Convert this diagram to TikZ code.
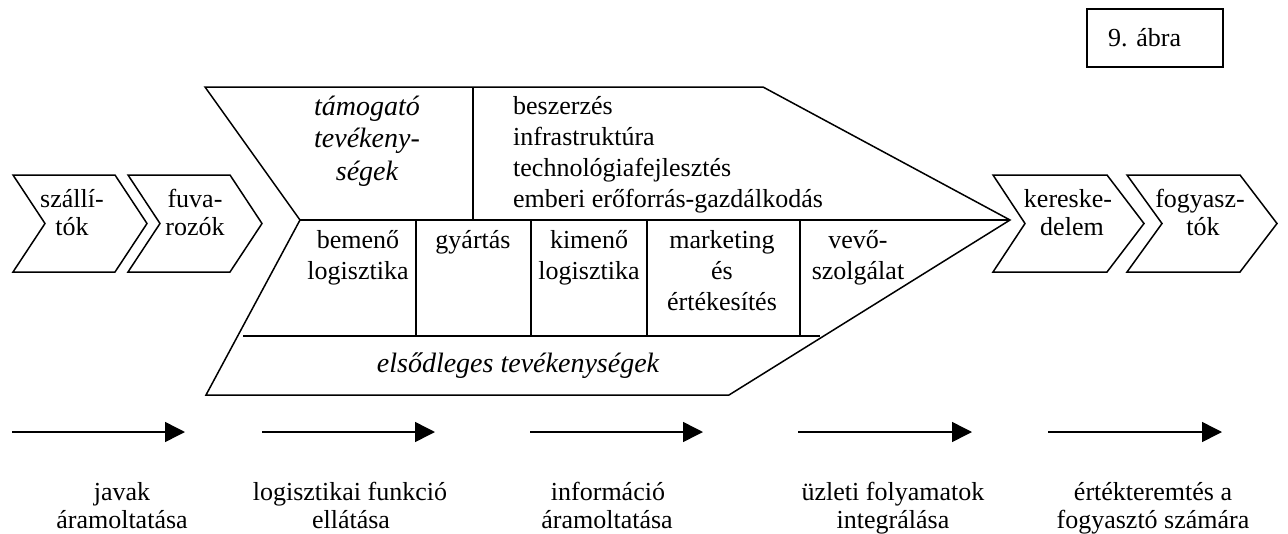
\documentclass[tikz,border=0pt]{standalone}
\usepackage{fontspec}
\setmainfont{Liberation Serif}
\usetikzlibrary{arrows.meta}
\begin{document}
\begin{tikzpicture}[x=1pt,y=-1pt,
  outline/.style={draw=black, line width=1.5pt, line join=miter},
  rule/.style={draw=black, line width=1.5pt},
  txt/.style={inner sep=0pt, anchor=base, font=\fontsize{26}{31}\selectfont},
  itxt/.style={inner sep=0pt, anchor=base, font=\fontsize{28}{32}\selectfont\itshape},
  flow/.style={draw=black, line width=1.5pt, -{Triangle[length=20pt,width=20pt]}}]
\useasboundingbox (0,0) rectangle (1288,533);

% figure number box
\draw[rule] (1087,9) rectangle (1223,67);
\node[txt, anchor=base west] (abra) at (1108,46) {9. ábra};

% small chevrons of the chain
\draw[outline] (13,175) -- (115,175) -- (147,223.5) -- (115,272) -- (13,272) -- (45,223.5) -- cycle;
\draw[outline] (128,175) -- (230,175) -- (262,223.5) -- (230,272) -- (128,272) -- (160,223.5) -- cycle;
\draw[outline] (993,175) -- (1107,175) -- (1144,223.5) -- (1107,272) -- (993,272) -- (1025,223.5) -- cycle;
\draw[outline] (1127,175) -- (1240,175) -- (1277,223.5) -- (1240,272) -- (1127,272) -- (1162,223.5) -- cycle;

\node[txt] (sz1) at (72,207) {szállí-};
\node[txt] (sz2) at (72,235) {tók};
\node[txt] (fu1) at (195,207) {fuva-};
\node[txt] (fu2) at (195,235) {rozók};
\node[txt] (ke1) at (1068,207) {kereske-};
\node[txt] (ke2) at (1072,235) {delem};
\node[txt] (fo1) at (1200,207) {fogyasz-};
\node[txt] (fo2) at (1203,235) {tók};

% value chain arrow
\draw[outline] (205,87) -- (763,87) -- (1010,220) -- (729,395) -- (206,395) -- (300,220) -- cycle;
\draw[rule] (300,220) -- (1010,220);
\draw[rule] (473,87) -- (473,220);
\draw[rule] (243,336) -- (820,336);
\foreach \cx in {416,531,647,800} \draw[rule] (\cx,220) -- (\cx,336);

% support activities
\node[itxt] (tam1) at (367,115) {támogató};
\node[itxt] (tam2) at (367,147) {tevékeny-};
\node[itxt] (tam3) at (367,180) {ségek};
\node[txt, anchor=base west] (s1) at (513,114) {beszerzés};
\node[txt, anchor=base west] (s2) at (513,145) {infrastruktúra};
\node[txt, anchor=base west] (s3) at (513,176) {technológiafejlesztés};
\node[txt, anchor=base west] (s4) at (513,207) {emberi erőforrás-gazdálkodás};

% primary activities
\node[txt] (be1) at (358,248) {bemenő};
\node[txt] (be2) at (358,279) {logisztika};
\node[txt] (gy) at (473,248) {gyártás};
\node[txt] (ki1) at (589,248) {kimenő};
\node[txt] (ki2) at (589,279) {logisztika};
\node[txt] (ma1) at (722,248) {marketing};
\node[txt] (ma2) at (722,279) {és};
\node[txt] (ma3) at (722,310) {értékesítés};
\node[txt] (ve1) at (858,248) {vevő-};
\node[txt] (ve2) at (858,279) {szolgálat};
\node[itxt] (els) at (518,372) {elsődleges tevékenységek};

% flows
\foreach \n/\xa/\xb in {1/12/185, 2/262/435, 3/530/703, 4/798/972, 5/1048/1222} {
  \coordinate (f\n a) at (\xa,432);
  \coordinate (f\n b) at (\xb,432);
  \draw[flow] (f\n a) -- (f\n b);
}
\node[txt] (l1a) at (122,500) {javak};
\node[txt] (l1b) at (122,528) {áramoltatása};
\node[txt] (l2a) at (350,500) {logisztikai funkció};
\node[txt] (l2b) at (351,528) {ellátása};
\node[txt] (l3a) at (608,500) {információ};
\node[txt] (l3b) at (607,528) {áramoltatása};
\node[txt] (l4a) at (893,500) {üzleti folyamatok};
\node[txt] (l4b) at (893,528) {integrálása};
\node[txt] (l5a) at (1153,500) {értékteremtés a};
\node[txt] (l5b) at (1153,528) {fogyasztó számára};
\end{tikzpicture}
\end{document}
